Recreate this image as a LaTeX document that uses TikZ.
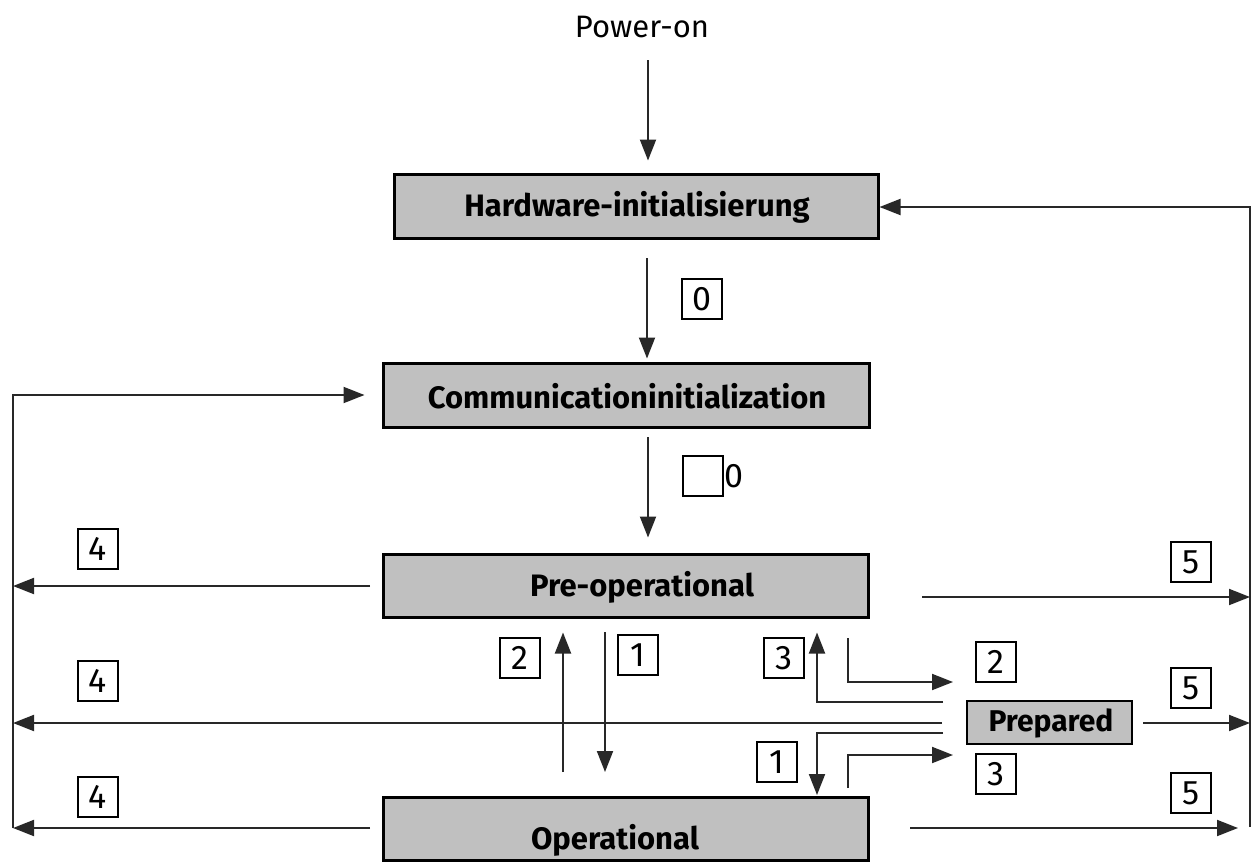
\documentclass[tikz,border=0pt]{standalone}
\usepackage{fontspec}
\setmainfont{Fira Sans}
\usetikzlibrary{arrows.meta}
\definecolor{boxgray}{RGB}{192,192,192}
\definecolor{linecol}{RGB}{40,40,40}
\begin{document}
\begin{tikzpicture}[x=1pt,y=-1pt,
  state/.style={draw=black, line width=3pt, fill=boxgray, inner sep=0pt,
     minimum width=485pt, minimum height=63pt},
  title/.style={font=\fontsize{31}{35}\selectfont\bfseries, inner sep=0pt},
  num/.style={draw=black, line width=1.8pt, minimum size=40pt, inner sep=0pt,
     font=\fontsize{34}{36}\selectfont, fill=white},
  conn/.style={line width=2pt, draw=linecol},
  arr/.style={conn, -{Triangle[length=21pt,width=16pt]}}
]
\useasboundingbox (0,0) rectangle (1254,865);

% text at top
\node[font=\fontsize{31}{34}\selectfont, inner sep=0pt] (power) at (642,27) {Power-on};

% state boxes
\node[state, minimum width=484pt, minimum height=64pt] (hw) at (636,206) {};
\node[title] (hwt) at (637,207) {Hardware-initialisierung};
\node[state, minimum width=486pt, minimum height=64pt] (comm) at (626,395) {};
\node[title] (commt) at (627,396) {Communicationinitialization};
\node[state] (preop) at (625.5,585.5) {};
\node[title] (preopt) at (642,587) {Pre-operational};
\node[state] (op) at (625.5,828.5) {};
\node[title] (opt) at (615,840) {Operational};
\node[state, line width=2.5pt, minimum width=165pt, minimum height=43pt] (prep) at (1049.5,722.5) {};
\node[title, font=\fontsize{30}{33}\selectfont\bfseries] (prept) at (1051,723) {Prepared};

% free connector ends
\coordinate (pw) at (648,60);
\coordinate (h0) at (647,258);
\coordinate (c0) at (648,437);
\coordinate (rb) at (1250,827);
\coordinate (rt) at (1250,207);
\coordinate (lb) at (13,828);
\coordinate (lt) at (13,395);
\coordinate (p4) at (370,586);
\coordinate (m4) at (942,723);
\coordinate (o4) at (370,828);
\coordinate (p5) at (922,597);
\coordinate (m5) at (1143,723);
\coordinate (o5) at (910,828);
\coordinate (o5e) at (1238,828);
\coordinate (u2) at (563,772);
\coordinate (d1) at (605,632);
\coordinate (s3) at (943,702);
\coordinate (s2) at (848,638);
\coordinate (t2) at (953,682);
\coordinate (s1) at (943,733);
\coordinate (s3b) at (848,788);
\coordinate (t3) at (953,755);

% connectors
\draw[arr, shorten >=12pt] (pw) -- (pw |- hw.north);
\draw[arr, shorten >=3pt] (h0) -- (h0 |- comm.north);
\draw[arr, shorten >=15pt] (c0) -- (c0 |- preop.north);
\draw[arr] (rb) -- (rt) -- (hw.east |- rt);
\draw[arr, shorten >=17pt] (lb) -- (lt) -- (comm.west |- lt);
\draw[arr] (p4) -- (lt |- p4);
\draw[arr] (m4) -- (lt |- m4);
\draw[arr] (o4) -- (lb);
\draw[arr] (p5) -- (rt |- p5);
\draw[arr] (m5) -- (rt |- m5);
\draw[arr] (o5) -- (o5e);
\draw[arr, shorten >=14pt] (u2) -- (u2 |- preop.south);
\draw[arr] (d1) -- (d1 |- u2);
\draw[arr, shorten >=14pt] (s3) -- (817,702) -- (817,702 |- preop.south);
\draw[arr] (s2) -- (s2 |- t2) -- (t2);
\draw[arr] (s1) -- (817,733) -- (817,795);
\draw[arr] (s3b) -- (s3b |- t3) -- (t3);

% number labels
\node[num] (n0) at (702,299) {0};
\node[num] (n0b) at (703,476) {};
\node[font=\fontsize{34}{36}\selectfont, inner sep=0pt, anchor=west] (n0bt) at (n0b.east) {0};
\node[num] (n4a) at (98,549) {4};
\node[num] (n4b) at (98,681) {4};
\node[num] (n4c) at (98,797) {4};
\node[num] (n5a) at (1191,562) {5};
\node[num] (n5b) at (1191,688) {5};
\node[num] (n5c) at (1191,793) {5};
\node[num] (n2a) at (520,658) {2};
\node[num] (n1a) at (638,655) {1};
\node[num] (n3a) at (784,658) {3};
\node[num] (n2b) at (996,662) {2};
\node[num] (n1b) at (777,762) {1};
\node[num] (n3b) at (996,774) {3};
\end{tikzpicture}
\end{document}
